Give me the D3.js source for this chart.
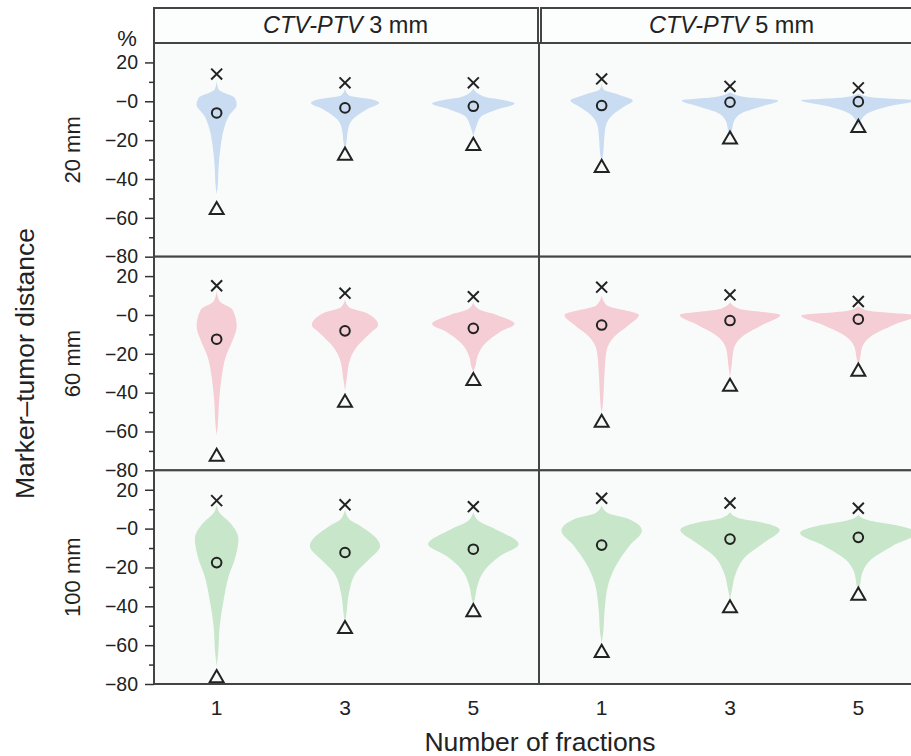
<!DOCTYPE html>
<html>
<head>
<meta charset="utf-8">
<script src="https://cdn.jsdelivr.net/npm/d3@7"></script>
<style>
body { margin: 0; background: #fff; }
svg { display: block; font-family: Arial, "Liberation Sans", sans-serif; }
</style>
</head>
<body>
<script>
// categories
var rowLabels = ["20 mm", "60 mm", "100 mm"];
var marginLabels = ["3 mm", "5 mm"];
var fractions = ["1", "3", "5"];
var yTicks = [20, 0, -20, -40, -60, -80];
var yMinorTicks = [10, -10, -30, -50, -70];

// markers, indexed [row][panel][fraction]
var maxPct = [
  [[14, 9.5, 9.5], [11.5, 7.7, 6.9]],
  [[15, 11.2, 9.4], [14.3, 10.3, 6.9]],
  [[14.4, 12.3, 11.3], [15.6, 13.2, 10.5]]
];
var meanPct = [
  [[-6, -3.4, -2.6], [-2.2, -0.5, -0.2]],
  [[-12.5, -8.2, -6.9], [-5.2, -2.9, -2.2]],
  [[-17.5, -12.3, -10.6], [-8.5, -5.4, -4.5]]
];
var minPct = [
  [[-56, -28, -23], [-34.3, -19.7, -13.7]],
  [[-73, -45.2, -34], [-55.5, -37, -29.2]],
  [[-77, -51.7, -43], [-64, -41, -34.5]]
];

// violin outlines: [value %, density], indexed [row][panel][fraction]
var violins = [
  [
    [
      [[10.5,0],[6,2],[1.7,18],[-1.7,20],[-7.7,12],[-14.6,7],[-23,4],[-33.5,2],[-43.8,1],[-48,0]],
      [[6.5,0],[3,4],[0.9,27],[-0.8,34],[-4.3,21],[-9.4,7.5],[-14.6,3],[-21,1.5],[-25,0]],
      [[6.5,0],[2.2,12],[0.9,27],[-1.2,41],[-4.3,23],[-7.7,8],[-12.9,3],[-18,0]]
    ],
    [
      [[9,0],[6,2],[3.4,17],[0.4,31],[-2.6,23],[-6.9,11],[-12.9,4],[-19.7,2.5],[-27,1.5],[-31,0]],
      [[4.8,0],[2.2,15],[0.4,48],[-2.6,32],[-6,12],[-10.3,4],[-14.6,2],[-18,0]],
      [[4,0],[2,15],[0.5,57],[-2.6,30],[-6,10],[-9.4,3],[-13,0]]
    ]
  ],
  [
    [
      [[12.5,0],[7,3],[2.6,16],[-6,20],[-12.9,16],[-21.5,9],[-31.8,5],[-43.8,2.5],[-57.5,1],[-62,0]],
      [[8,0],[4,4],[0.9,22],[-5.2,33],[-9.4,25],[-16.3,12],[-23,5],[-31.8,2],[-39,0]],
      [[6.5,0],[3,5],[0,23],[-4.6,41],[-8.6,27],[-14.6,12],[-21.5,4],[-26.6,2],[-29.5,0]]
    ],
    [
      [[10,0],[5,5],[0,37],[-5.2,27],[-11.2,12.5],[-18.1,5],[-28.4,3],[-38.7,2],[-47,1],[-50.5,0]],
      [[6.5,0],[3,10],[0,50],[-5.2,32],[-11.2,12],[-18,3.5],[-26.6,1.5],[-32,0]],
      [[4.5,0],[2,12],[-0.3,57],[-5.2,35],[-11.2,12],[-16.3,4],[-23,1.5],[-26,0]]
    ]
  ],
  [
    [
      [[12,0],[8,3],[3.2,13],[-5.4,21.7],[-15.8,18],[-24.4,12],[-36.5,7],[-50.4,3],[-64.1,1.5],[-71,0]],
      [[10,0],[5,4],[1.5,15],[-8.9,35],[-15.8,24],[-22.7,11],[-33,4],[-43.4,1.5],[-48.5,0]],
      [[8.5,0],[4,5],[-0.3,22],[-8,45],[-14,27],[-20.9,12],[-29.5,4],[-36.4,1.5],[-40,0]]
    ],
    [
      [[12,0],[8,6],[4.9,27],[-1.1,40],[-8.9,27.5],[-17.5,16],[-27.9,7],[-41.7,3],[-53.8,1.5],[-59,0]],
      [[8.5,0],[5.5,8],[3.2,32],[-0.6,49.5],[-7.2,34],[-14.1,16],[-22.7,6],[-31.3,2],[-36.5,0]],
      [[7,0],[4,12],[1.5,40],[-2.3,58],[-8.9,34],[-15.8,13],[-22.7,4],[-29.5,1.5],[-32,0]]
    ]
  ]
];
var violinColors = ["#cadcf1", "#f5cdd5", "#c8e6ca"];

// layout
var W = 911, H = 756;
var panelX = [154, 539];
var panelW = 385;
var top0 = 43;
var rowH = (684 - top0) / 3;

var svg = d3.select("body").append("svg")
    .attr("width", W)
    .attr("height", H);

svg.append("rect").attr("width", W).attr("height", H).attr("fill", "#fff");

// headers
marginLabels.forEach(function(m, p) {
    var hx = p == 0 ? 154 : 541;
    var hw = p == 0 ? 384 : 400;
    svg.append("rect")
        .attr("x", hx).attr("y", 8)
        .attr("width", hw).attr("height", 35)
        .attr("fill", "#fcfdfd")
        .attr("stroke", "#444").attr("stroke-width", 2);
    var t = svg.append("text")
        .attr("x", panelX[p] + panelW / 2 + (p == 0 ? -1 : 0))
        .attr("y", 33)
        .attr("text-anchor", "middle")
        .attr("font-size", 23.5)
        .attr("fill", "#222");
    t.append("tspan").attr("font-style", "italic").text("CTV-PTV");
    t.append("tspan").text(" " + m);
});

var symX = d3.symbol().type(d3.symbolX).size(80);
var symTri = d3.symbol().type(d3.symbolTriangle2).size(140);

rowLabels.forEach(function(rl, r) {
    var y0 = top0 + r * rowH;
    var yScale = d3.scaleLinear().domain([-80, 30]).range([y0 + rowH, y0]);

    marginLabels.forEach(function(m, p) {
        var x0 = panelX[p];
        var xScale = d3.scalePoint()
            .domain(fractions)
            .range([x0 - 1.5, x0 + panelW - 1.5])
            .padding(0.5);
        var wScale = d3.scaleLinear().domain([0, 60]).range([0, xScale.step() * 0.47]);

        var g = svg.append("g");

        g.append("rect")
            .attr("x", x0).attr("y", y0)
            .attr("width", panelW).attr("height", rowH)
            .attr("fill", "#f9fbfb");

        fractions.forEach(function(f, i) {
            var cx = xScale(f);
            var area = d3.area()
                .curve(d3.curveMonotoneY)
                .y(function(d) { return yScale(d[0]); })
                .x0(function(d) { return cx - wScale(d[1]); })
                .x1(function(d) { return cx + wScale(d[1]); });

            g.append("path")
                .datum(violins[r][p][i])
                .attr("d", area)
                .attr("fill", violinColors[r]);

            g.append("path")
                .attr("d", symX())
                .attr("transform", "translate(" + cx + "," + yScale(maxPct[r][p][i]) + ")")
                .attr("fill", "none").attr("stroke", "#222").attr("stroke-width", 2);

            g.append("circle")
                .attr("cx", cx).attr("cy", yScale(meanPct[r][p][i]))
                .attr("r", 4.8)
                .attr("fill", "none").attr("stroke", "#222").attr("stroke-width", 2);

            g.append("path")
                .attr("d", symTri())
                .attr("transform", "translate(" + cx + "," + yScale(minPct[r][p][i]) + ")")
                .attr("fill", "none").attr("stroke", "#222").attr("stroke-width", 2);

            if (r == rowLabels.length - 1) {
                svg.append("text")
                    .attr("x", cx).attr("y", 715)
                    .attr("text-anchor", "middle")
                    .attr("font-size", 21)
                    .attr("fill", "#222")
                    .text(f);
            }
        });

        g.append("rect")
            .attr("x", x0).attr("y", y0)
            .attr("width", panelW).attr("height", rowH)
            .attr("fill", "none")
            .attr("stroke", "#444").attr("stroke-width", 2);
    });

    // y axis
    var ax = svg.append("g")
        .attr("transform", "translate(" + panelX[0] + ",0)")
        .call(d3.axisLeft(yScale)
            .tickValues(yTicks)
            .tickSize(9)
            .tickPadding(7)
            .tickFormat(function(d) { return d === 0 ? "\u22120" : d3.format("")(d); }));
    ax.select(".domain").remove();
    ax.selectAll("line").attr("stroke", "#333").attr("stroke-width", 1.5);
    ax.selectAll("text")
        .attr("font-size", 19.5)
        .attr("font-family", "Arial, 'Liberation Sans', sans-serif")
        .attr("fill", "#222");

    var axm = svg.append("g")
        .attr("transform", "translate(" + panelX[0] + ",0)")
        .call(d3.axisLeft(yScale).tickValues(yMinorTicks).tickSize(5).tickFormat(""));
    axm.select(".domain").remove();
    axm.selectAll("line").attr("stroke", "#333").attr("stroke-width", 1.5);

    svg.append("text")
        .attr("transform", "translate(80," + (y0 + rowH / 2) + ") rotate(-90)")
        .attr("text-anchor", "middle")
        .attr("font-size", 22)
        .attr("fill", "#222")
        .text(rl);
});

svg.append("text")
    .attr("x", 127).attr("y", 46)
    .attr("text-anchor", "middle")
    .attr("font-size", 22)
    .attr("fill", "#222")
    .text("%");

svg.append("text")
    .attr("transform", "translate(34," + (top0 + 1.5 * rowH) + ") rotate(-90)")
    .attr("text-anchor", "middle")
    .attr("font-size", 26.5)
    .attr("fill", "#222")
    .text("Marker\u2013tumor distance");

svg.append("text")
    .attr("x", 540).attr("y", 751)
    .attr("text-anchor", "middle")
    .attr("font-size", 26.5)
    .attr("fill", "#222")
    .text("Number of fractions");
</script>
</body>
</html>
